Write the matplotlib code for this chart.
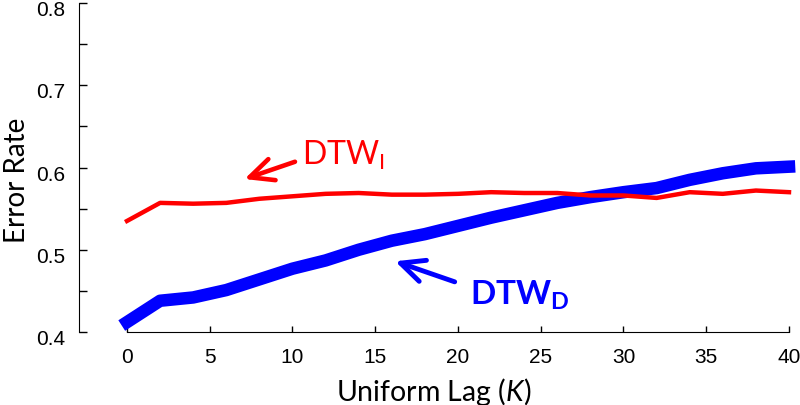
import matplotlib
matplotlib.use("Agg")
import matplotlib.pyplot as plt
from matplotlib.transforms import ScaledTranslation

lag = [0, 2, 4, 6, 8, 10, 12, 14, 16, 18, 20, 22, 24, 26, 28, 30, 32, 34, 36, 38, 40]
dtw_i = [0.535, 0.557, 0.556, 0.557, 0.562, 0.565, 0.568, 0.569, 0.567, 0.567, 0.568,
         0.570, 0.569, 0.569, 0.566, 0.566, 0.563, 0.570, 0.568, 0.572, 0.570]
dtw_d = [0.412, 0.438, 0.442, 0.451, 0.464, 0.477, 0.487, 0.500, 0.511, 0.519, 0.529,
         0.539, 0.548, 0.557, 0.564, 0.570, 0.575, 0.585, 0.593, 0.599, 0.601]
xticks = [0, 5, 10, 15, 20, 25, 30, 35, 40]
yticks = [0.4, 0.5, 0.6, 0.7, 0.8]

plt.rcParams['mathtext.fontset'] = 'custom'
plt.rcParams['mathtext.rm'] = 'Lato'
plt.rcParams['mathtext.bf'] = 'Lato:bold'
plt.rcParams['mathtext.it'] = 'Lato:italic'

fig = plt.figure(figsize=(8, 4.06), dpi=100)
ax = fig.add_axes([0.09875, 0.1798, 0.8875, 0.8103])

ax.plot(lag, dtw_d, color='#0000ff', lw=9, clip_on=False, zorder=2)
ax.plot(lag, dtw_i, color='#ff0000', lw=3.2, clip_on=False, zorder=3)

ax.set_xlim(-2.9, 40)
ax.set_ylim(0.4, 0.8)
ax.set_xticks(xticks)
ax.set_yticks(yticks)
ax.set_yticks([0.45, 0.55, 0.65, 0.75], minor=True)
ax.set_yticklabels(['0.4', '0.5', '0.6', '0.7', '0.8'])
ax.set_xticklabels([str(t) for t in xticks])
for lab in ax.get_xticklabels() + ax.get_yticklabels():
    lab.set_family('Liberation Sans')
    lab.set_fontsize(15)
ax.tick_params(axis='both', which='both', direction='in', width=1, color='black')
ax.tick_params(axis='y', which='both', length=6, pad=10)
ax.tick_params(axis='x', length=4, pad=11)
shift = ScaledTranslation(0, -0.045, fig.dpi_scale_trans)
for tick in ax.yaxis.get_major_ticks():
    tick.label1.set_transform(tick.label1.get_transform() + shift)
ax.spines['top'].set_visible(False)
ax.spines['right'].set_visible(False)
ax.spines['bottom'].set_bounds(0, 40)

ax.set_xlabel('Uniform Lag ($\\mathit{K}$)', family='Lato', fontsize=20.5, labelpad=6)
ax.set_ylabel('Error Rate', family='Lato', fontsize=20)
ax.yaxis.set_label_coords(-0.069, 0.465)

arrow_kw = '->,head_length=1.7,head_width=0.8'
ax.text(10.57, 0.604, r'$\mathrm{DTW_I}$', color='#ff0000', fontsize=23, ha='left', va='baseline')
ax.annotate('', xy=(7.1, 0.586), xytext=(10.15, 0.607),
            arrowprops=dict(arrowstyle=arrow_kw, color='#ff0000', lw=3.3, shrinkA=0, shrinkB=0))
ax.text(20.7, 0.434, r'$\mathbf{DTW_D}$', color='#0000ff', fontsize=24, ha='left', va='baseline')
ax.annotate('', xy=(16.2, 0.486), xytext=(19.8, 0.461),
            arrowprops=dict(arrowstyle=arrow_kw, color='#0000ff', lw=3.5, shrinkA=0, shrinkB=0))

fig.savefig('out.png', dpi=100)
